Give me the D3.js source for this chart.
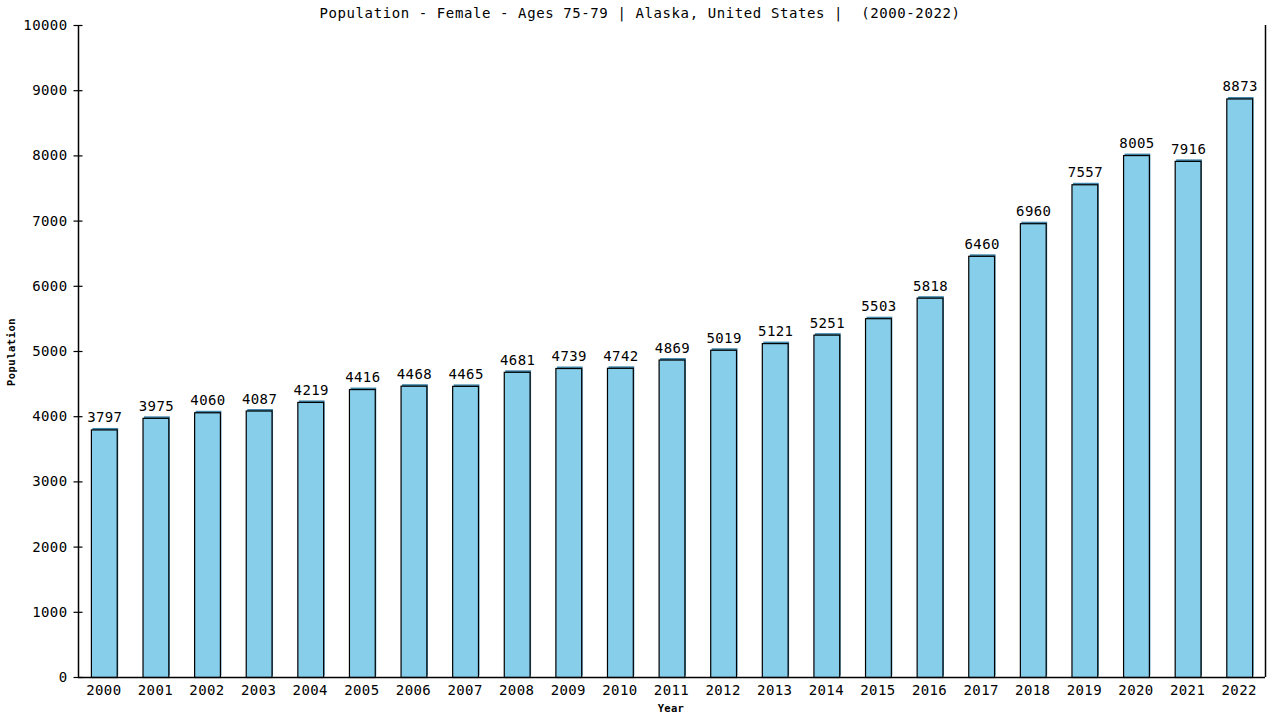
<!DOCTYPE html>
<html>
<head>
<meta charset="utf-8">
<script src="https://cdn.jsdelivr.net/npm/d3@7"></script>
<style>
  body { margin: 0; background: #fff; }
  svg text { font-family: "DejaVu Sans Mono", monospace; fill: #000; white-space: pre; }
</style>
</head>
<body>
<svg width="1280" height="720"></svg>
<script>
// chart data
var years = ["2000","2001","2002","2003","2004","2005","2006","2007","2008","2009","2010","2011",
             "2012","2013","2014","2015","2016","2017","2018","2019","2020","2021","2022"];
var population = [3797,3975,4060,4087,4219,4416,4468,4465,4681,4739,4742,4869,
                  5019,5121,5251,5503,5818,6460,6960,7557,8005,7916,8873];
var yTicks = [0,1000,2000,3000,4000,5000,6000,7000,8000,9000,10000];

var svg = d3.select("svg");
var plotL = 78, plotR = 1265, plotT = 25, plotB = 677;

var x = d3.scaleBand().domain(years).range([plotL, plotR]).paddingInner(0.5).paddingOuter(0.25);
var y = d3.scaleLinear().domain([0, 10000]).range([plotB, plotT]);

// title
svg.append("text")
    .attr("x", 640).attr("y", 14)
    .attr("text-anchor", "middle").attr("dominant-baseline", "middle")
    .style("font-size", "14px").style("letter-spacing", "0.6px")
    .text("Population - Female - Ages 75-79 | Alaska, United States |  (2000-2022)");

// bars: shadow then bar
var g = svg.append("g");
g.selectAll("rect.shadow").data(population).enter().append("rect")
    .attr("class", "shadow")
    .attr("x", function(d, i) { return x(years[i]) + 1.5; })
    .attr("y", function(d) { return y(d) - 1.5; })
    .attr("width", x.bandwidth())
    .attr("height", function(d) { return plotB - y(d); })
    .attr("fill", "#3f86aa");

g.selectAll("rect.bar").data(population).enter().append("rect")
    .attr("class", "bar")
    .attr("x", function(d, i) { return x(years[i]) + 0.5; })
    .attr("y", function(d) { return y(d) + 0.5; })
    .attr("width", x.bandwidth())
    .attr("height", function(d) { return plotB - y(d); })
    .attr("fill", "#87ceeb")
    .attr("stroke", "#000")
    .attr("stroke-width", 1.2);

// value labels
g.selectAll("text.val").data(population).enter().append("text")
    .attr("class", "val")
    .attr("x", function(d, i) { return x(years[i]) + x.bandwidth() / 2 + 1; })
    .attr("y", function(d) { return y(d) - 7; })
    .attr("text-anchor", "middle")
    .style("font-size", "14px").style("letter-spacing", "0.4px")
    .text(function(d) { return d; });

// y axis
var yAxis = d3.axisLeft(y).tickValues(yTicks).tickSize(5).tickPadding(5).tickFormat(d3.format("d"));
var ya = svg.append("g").attr("transform", "translate(" + (plotL + 0.5) + ",0)").call(yAxis);
ya.select(".domain").attr("stroke", "#000").attr("stroke-width", 1.5).attr("d", "M0," + plotT + "V" + plotB);
ya.selectAll(".tick line").attr("x1", 4).attr("x2", -5).attr("stroke", "#000").attr("stroke-width", 1.2);
ya.selectAll(".tick text").attr("x", -11)
    .style("font-size", "14px").style("letter-spacing", "0.4px").style("font-family", "DejaVu Sans Mono, monospace");

// x axis
var xAxis = d3.axisBottom(x).tickSize(0).tickPadding(8);
var xa = svg.append("g").attr("transform", "translate(0," + (plotB + 0.5) + ")").call(xAxis);
xa.select(".domain").attr("stroke", "#000").attr("stroke-width", 1.5).attr("d", "M" + plotL + ",0H" + plotR);
xa.selectAll(".tick text")
    .style("font-size", "14px").style("letter-spacing", "0.4px").style("font-family", "DejaVu Sans Mono, monospace");

// right border
svg.append("line")
    .attr("x1", plotR + 0.5).attr("x2", plotR + 0.5).attr("y1", plotT).attr("y2", plotB)
    .attr("stroke", "#000").attr("stroke-width", 1.5);

// axis titles
svg.append("text")
    .attr("x", 671).attr("y", 709)
    .attr("text-anchor", "middle").attr("dominant-baseline", "middle")
    .style("font-size", "10.5px").style("font-weight", "bold").style("letter-spacing", "0.3px")
    .text("Year");

svg.append("text")
    .attr("transform", "translate(12,352) rotate(-90)")
    .attr("text-anchor", "middle").attr("dominant-baseline", "middle")
    .style("font-size", "10.5px").style("font-weight", "bold").style("letter-spacing", "0.5px")
    .text("Population");
</script>
</body>
</html>
